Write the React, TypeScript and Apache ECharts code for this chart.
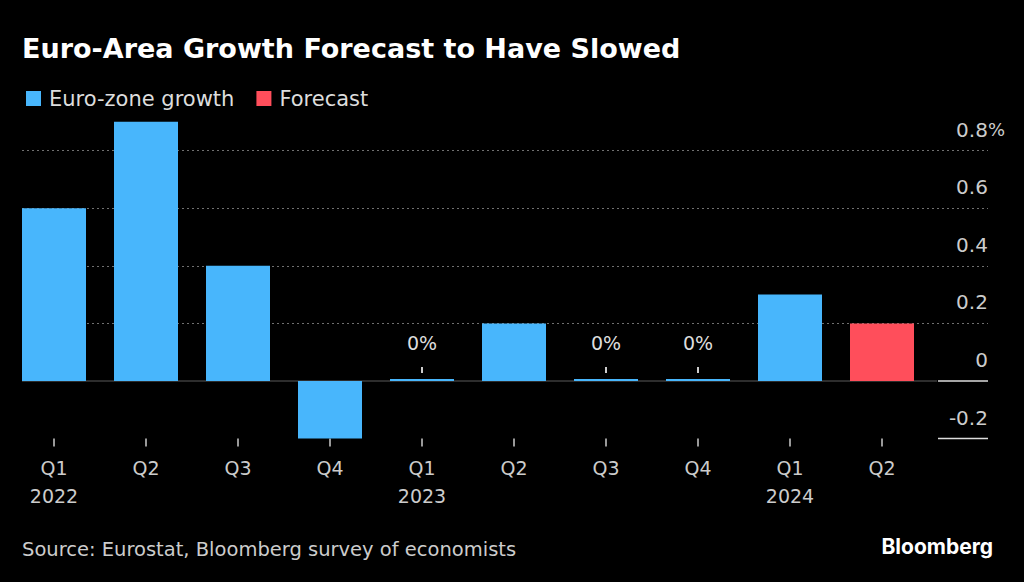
import React, { useEffect, useRef } from "react";
import * as echarts from "echarts";

const categories = ["Q1\n2022", "Q2", "Q3", "Q4", "Q1\n2023", "Q2", "Q3", "Q4", "Q1\n2024", "Q2"];
const growth: (number | null)[] = [0.6, 0.9, 0.4, -0.2, 0, 0.2, 0, 0, 0.3, null];
const forecast: (number | null)[] = [null, null, null, null, null, null, null, null, null, 0.2];
const yMin = -0.2;
const yMax = 0.8;
const yInterval = 0.2;
const barMax = 0.9;

const BLUE = "#48b6fc";
const RED = "#ff4e5b";
const FONT = "DejaVu Sans";

// layout
const PX_PER_UNIT = 288;
const Y_ZERO = 381;
const yPix = (v: number) => Y_ZERO - v * PX_PER_UNIT;

export default function App() {
  const ref = useRef<HTMLDivElement>(null);
  useEffect(() => {
    document.body.style.margin = "0";
    document.body.style.background = "#000";
    const chart = echarts.init(ref.current!, null, { renderer: "svg" });
    const fmtY = (v: number) => {
      const r = Math.round(v * 10) / 10;
      const s = r === 0 ? "0" : r.toFixed(1);
      if (Math.abs(r - yMax) < 1e-9) return "{n|" + s + "}{p|%}";
      return "{n|" + s + "}{h|%}";
    };
    const option: any = {
      animation: false,
      backgroundColor: "#000",
      title: {
        text: "Euro-Area Growth Forecast to Have Slowed",
        left: 22,
        top: 35,
        padding: 0,
        textStyle: { color: "#fff", fontFamily: FONT, fontWeight: "bold", fontSize: 27 },
      },
      legend: {
        left: 26,
        top: 88,
        padding: 0,
        itemWidth: 15,
        itemHeight: 15,
        itemGap: 22,
        icon: "rect",
        data: ["Euro-zone growth", "Forecast"],
        textStyle: { color: "#ddd", fontFamily: FONT, fontSize: 21, padding: [0, 0, 0, 3] },
      },
      grid: [
        { left: 8, width: 920, top: yPix(barMax), height: yPix(yMin) - yPix(barMax) },
        { left: 22, right: 36, top: yPix(yMax), height: yPix(yMin) - yPix(yMax) },
      ],
      xAxis: [
        {
          type: "category",
          gridIndex: 0,
          data: categories,
          axisLine: { show: false, onZero: false },
          axisTick: { show: true, alignWithLabel: true, length: 8, lineStyle: { color: "#ccc", width: 1.5 } },
          axisLabel: {
            interval: 0,
            margin: 15,
            color: "#ccc",
            fontFamily: FONT,
            fontSize: 19,
            lineHeight: 28,
          },
        },
        { type: "value", gridIndex: 1, show: false, min: 0, max: 1 },
      ],
      yAxis: [
        { type: "value", gridIndex: 0, min: yMin, max: barMax, show: false },
        {
          type: "value",
          gridIndex: 1,
          position: "right",
          min: yMin,
          max: yMax,
          interval: yInterval,
          axisLine: { show: false },
          axisTick: { show: false },
          splitLine: {
            show: true,
            lineStyle: {
              color: ["rgba(0,0,0,0)", "rgba(0,0,0,0)", "#707070", "#707070", "#707070", "#707070"],
              type: [2, 3],
              width: 1,
            },
          },
          axisLabel: {
            inside: true,
            margin: -17,
            align: "right",
            verticalAlign: "bottom",
            padding: [0, 0, 11, 0],
            color: "#ccc",
            fontFamily: FONT,
            fontSize: 20,
            formatter: fmtY,
            rich: {
              n: { color: "#ccc", fontFamily: FONT, fontSize: 20 },
              p: { color: "#ccc", fontFamily: FONT, fontSize: 18 },
              h: { color: "rgba(0,0,0,0)", fontFamily: FONT, fontSize: 18 },
            },
          },
        },
      ],
      series: [
        {
          name: "Euro-zone growth",
          type: "bar",
          xAxisIndex: 0,
          yAxisIndex: 0,
          data: growth,
          barWidth: 64,
          barGap: "-100%",
          barMinHeight: 2,
          itemStyle: { color: BLUE },
          label: {
            show: true,
            position: "top",
            distance: 6,
            formatter: (p: any) => (p.value === 0 ? "{v|0%}\n{s| }\n{t| }" : ""),
            rich: {
              v: { color: "#ddd", fontFamily: FONT, fontSize: 19, lineHeight: 22 },
              s: { fontSize: 1, lineHeight: 13, height: 13 },
              t: { width: 2, height: 6, lineHeight: 6, fontSize: 1, backgroundColor: "#ccc" },
            },
          },
        },
        {
          name: "Forecast",
          type: "bar",
          xAxisIndex: 0,
          yAxisIndex: 0,
          data: forecast,
          barWidth: 64,
          barGap: "-100%",
          itemStyle: { color: RED },
        },
      ],
      graphic: [
        {
          type: "text",
          left: 22,
          top: 539,
          style: {
            text: "Source: Eurostat, Bloomberg survey of economists",
            fill: "#ccc",
            font: `19.5px "${FONT}"`,
          },
        },
        {
          type: "text",
          right: 31,
          top: 536,
          style: {
            text: "Bloomberg",
            fill: "#fff",
            font: `bold 21px Inter`,
          },
        },
      ],
    };
    chart.setOption(option);
    const y0 = chart.convertToPixel({ yAxisIndex: 1 }, 0) as number;
    const yM = chart.convertToPixel({ yAxisIndex: 1 }, yMin) as number;
    chart.setOption({
      graphic: [
        option.graphic[0],
        option.graphic[1],
        { type: "line", z: 1, shape: { x1: 22, y1: y0, x2: 937, y2: y0 }, style: { stroke: "#5a5a5a", lineWidth: 1.2 } },
        { type: "line", z: 1, shape: { x1: 938, y1: y0, x2: 988, y2: y0 }, style: { stroke: "#ddd", lineWidth: 1.5 } },
        { type: "line", z: 1, shape: { x1: 938, y1: yM, x2: 988, y2: yM }, style: { stroke: "#ddd", lineWidth: 1.5 } },
      ],
    });
    return () => chart.dispose();
  }, []);
  return <div ref={ref} style={{ width: 1024, height: 582 }} />;
}
